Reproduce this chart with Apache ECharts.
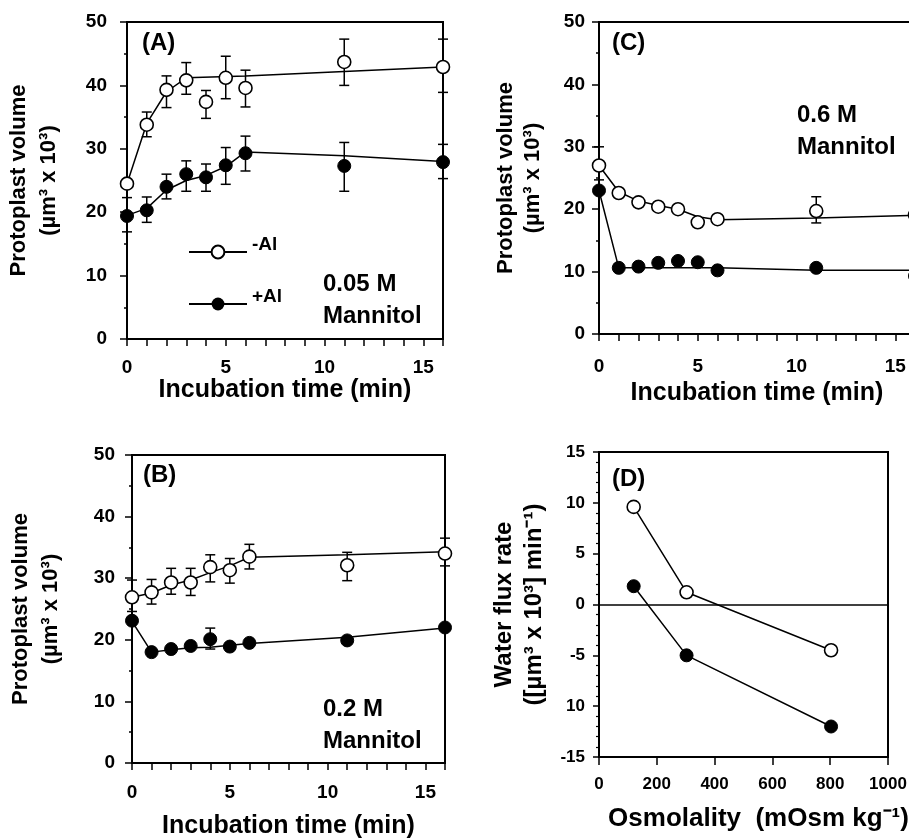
<!DOCTYPE html>
<html>
<head>
<meta charset="utf-8">
<script src="https://cdn.jsdelivr.net/npm/echarts@6/dist/echarts.min.js"></script>
<style>html,body{margin:0;padding:0;background:#fff}#c{width:909px;height:838px}</style>
</head>
<body>
<div id="c"></div>
<script>
// ---------- DATA ----------
// Panel A (0.05 M mannitol)
const timeA = [0, 1, 2, 3, 4, 5, 6, 11, 16];
const aMinusAl = [24.5, 33.8, 39.3, 40.8, 37.4, 41.2, 39.6, 43.7, 42.9];
const aPlusAl  = [19.4, 20.3, 24.0, 26.0, 25.5, 27.4, 29.3, 27.3, 27.9];
const aMinusErr = [[1,31.9,35.8],[2,36.5,41.5],[3,38.6,43.6],[4,34.8,39.2],[5,37.9,44.6],[6,36.6,42.4],[11,40.0,47.3],[16,38.9,47.3]];
const aPlusErr  = [[0,16.9,22.3],[1,18.4,22.4],[2,22.1,26.0],[3,23.3,28.1],[4,23.3,27.6],[5,24.4,30.2],[6,26.5,32.0],[11,23.3,31.0],[16,25.3,30.7]];
const aMinusFitX = [0, 1, 2, 3, 6, 11, 16];
const aMinusFitY = [24.5, 34.0, 39.0, 41.2, 41.5, 42.2, 42.9];
const aPlusFitX = [0, 1, 2, 3, 4, 5, 6, 11, 16];
const aPlusFitY = [19.5, 20.6, 23.5, 25.0, 25.8, 27.2, 29.5, 28.9, 28.0];

// Panel B (0.2 M mannitol)
const timeB = [0, 1, 2, 3, 4, 5, 6, 11, 16];
const bMinusAl = [26.9, 27.7, 29.3, 29.3, 31.8, 31.3, 33.5, 32.1, 34.0];
const bPlusAl  = [23.1, 18.0, 18.5, 19.0, 20.1, 18.9, 19.5, 19.9, 22.0];
const bMinusErr = [[0,24.6,29.7],[1,25.8,29.8],[2,27.4,31.6],[3,27.2,31.6],[4,29.4,33.8],[5,29.2,33.2],[6,31.5,35.5],[11,29.6,34.2],[16,32.0,36.5]];
const bPlusErr  = [[4,18.5,21.9]];
const bMinusFitX = [0, 1, 2, 3, 4, 5, 6, 11, 16];
const bMinusFitY = [26.9, 27.6, 28.9, 29.7, 30.9, 32.0, 33.4, 33.8, 34.3];
const bPlusFitX = [0, 1, 2, 3, 4, 5, 6, 11, 16];
const bPlusFitY = [23.0, 18.0, 18.4, 18.7, 18.8, 19.1, 19.4, 20.4, 21.9];

// Panel C (0.6 M mannitol)
const timeC = [0, 1, 2, 3, 4, 5, 6, 11, 16];
const cMinusAl = [27.0, 22.6, 21.1, 20.4, 20.0, 17.9, 18.4, 19.7, 19.1];
const cPlusAl  = [23.0, 10.6, 10.8, 11.4, 11.7, 11.5, 10.2, 10.6, 9.3];
const cMinusErr = [[0,24.7,30.0],[11,17.8,22.0]];
const cMinusFitX = [0, 1, 2, 3, 4, 5, 6, 11, 16];
const cMinusFitY = [27.0, 22.8, 21.3, 20.6, 20.0, 18.8, 18.3, 18.6, 19.0];
const cPlusFitX = [0, 1, 6, 11, 16];
const cPlusFitY = [23.0, 10.6, 10.6, 10.2, 10.2];

// Panel D (water flux rate vs osmolality)
const osmD = [120, 303, 803];
const dMinusAl = [9.6, 1.2, -4.5];
const dPlusAl  = [1.8, -5.0, -12.0];

// Tick labels
const timeTicks = [0, 5, 10, 15];
const volTicks = [0, 10, 20, 30, 40, 50];
const fluxTicks = [-15, -10, -5, 0, 5, 10, 15];
const fluxTickText = ['-15', '10', '-5', '0', '5', '10', '15'];
const osmTicks = [0, 200, 400, 600, 800, 1000];

// ---------- HELPERS ----------
const FONT = '"Liberation Sans", Arial, Helvetica, sans-serif';
const zip = (xs, ys) => xs.map((x, i) => [x, ys[i]]);

function errRender(params, api) {
  const x = api.value(0), lo = api.value(1), hi = api.value(2);
  const pLo = api.coord([x, lo]), pHi = api.coord([x, hi]);
  const hw = 5;
  const style = { stroke: '#000', lineWidth: 1.5, fill: null };
  return {
    type: 'group',
    children: [
      { type: 'line', shape: { x1: pLo[0], y1: pLo[1], x2: pHi[0], y2: pHi[1] }, style },
      { type: 'line', shape: { x1: pLo[0] - hw, y1: pLo[1], x2: pLo[0] + hw, y2: pLo[1] }, style },
      { type: 'line', shape: { x1: pHi[0] - hw, y1: pHi[1], x2: pHi[0] + hw, y2: pHi[1] }, style }
    ]
  };
}

function timeAxis(gi, margin, nameGap) {
  return {
    gridIndex: gi, type: 'value', min: 0, max: 16, interval: 1,
    axisLine: { show: true, onZero: false, lineStyle: { color: '#000', width: 2 } },
    axisTick: { show: true, length: 7, lineStyle: { color: '#000', width: 1.5 } },
    axisLabel: { margin: margin, color: '#000', fontSize: 19, fontWeight: 'bold', fontFamily: FONT,
      formatter: v => timeTicks.indexOf(v) >= 0 ? String(v) : '' },
    splitLine: { show: false },
    name: 'Incubation time (min)', nameLocation: 'middle', nameGap: nameGap,
    nameTextStyle: { color: '#000', fontSize: 25, fontWeight: 'bold', fontFamily: FONT }
  };
}

function volAxis(gi, margin, nameGap, lh) {
  return {
    gridIndex: gi, type: 'value', min: 0, max: 50, interval: 10,
    axisLine: { show: true, onZero: false, lineStyle: { color: '#000', width: 2 } },
    axisTick: { show: true, length: 7, lineStyle: { color: '#000', width: 1.5 } },
    minorTick: { show: true, splitNumber: 2, length: 3, lineStyle: { color: '#000', width: 1.5 } },
    axisLabel: { margin: margin, color: '#000', fontSize: 19, fontWeight: 'bold', fontFamily: FONT,
      formatter: v => volTicks.indexOf(v) >= 0 ? String(v) : '' },
    splitLine: { show: false },
    name: 'Protoplast volume\n(µm³ x 10³)', nameLocation: 'middle', nameGap: nameGap,
    nameTextStyle: { color: '#000', fontSize: 22, fontWeight: 'bold', fontFamily: FONT, lineHeight: lh, align: 'center' }
  };
}

function openScatter(name, xi, yi, data) {
  return { name, type: 'scatter', xAxisIndex: xi, yAxisIndex: yi, data, symbol: 'circle', symbolSize: 13,
    itemStyle: { color: '#fff', borderColor: '#000', borderWidth: 1.6, opacity: 1 }, z: 4, clip: false };
}
function filledScatter(name, xi, yi, data) {
  return { name, type: 'scatter', xAxisIndex: xi, yAxisIndex: yi, data, symbol: 'circle', symbolSize: 13,
    itemStyle: { color: '#000', borderColor: '#000', borderWidth: 1, opacity: 1 }, z: 4, clip: false };
}
function fitLine(name, xi, yi, data, open) {
  return { name, type: 'line', xAxisIndex: xi, yAxisIndex: yi, data, showSymbol: false, symbol: 'circle',
    symbolSize: 13, lineStyle: { color: '#000', width: 1.5 },
    itemStyle: open ? { color: '#fff', borderColor: '#000', borderWidth: 1.6 } : { color: '#000', borderColor: '#000' },
    z: 3, silent: true, animation: false };
}
function errBars(name, xi, yi, data) {
  return { name, type: 'custom', xAxisIndex: xi, yAxisIndex: yi, data, renderItem: errRender, z: 2, clip: false, animation: false };
}

const gridStyle = { show: true, borderColor: '#000', borderWidth: 2, backgroundColor: 'transparent', containLabel: false, outerBoundsMode: 'none' };

const option = {
  animation: false,
  backgroundColor: '#fff',
  textStyle: { fontFamily: FONT },
  grid: [
    Object.assign({ left: 127, top: 22, width: 316, height: 317 }, gridStyle),   // A
    Object.assign({ left: 132, top: 455, width: 313, height: 308 }, gridStyle),  // B
    Object.assign({ left: 599, top: 22, width: 316, height: 312 }, gridStyle),   // C
    Object.assign({ left: 599, top: 452, width: 289, height: 305 }, gridStyle)   // D
  ],
  xAxis: [
    timeAxis(0, 19, 37),
    timeAxis(1, 20, 51),
    timeAxis(2, 23, 47),
    {
      gridIndex: 3, type: 'value', min: 0, max: 1000, interval: 200,
      axisLine: { show: true, onZero: false, lineStyle: { color: '#000', width: 2 } },
      axisTick: { show: true, length: 8, lineStyle: { color: '#000', width: 1.5 } },
      axisLabel: { margin: 19, color: '#000', fontSize: 17, fontWeight: 'bold', fontFamily: FONT,
        formatter: v => osmTicks.indexOf(v) >= 0 ? String(v) : '' },
      splitLine: { show: false },
      name: 'Osmolality  (mOsm kg⁻¹)', nameLocation: 'middle', nameGap: 49,
      nameTextStyle: { color: '#000', fontSize: 26, fontWeight: 'bold', fontFamily: FONT, padding: [0, 0, 0, 30] }
    }
  ],
  yAxis: [
    volAxis(0, 20, 63, 30),
    volAxis(1, 17, 66, 30),
    volAxis(2, 14, 53, 27),
    {
      gridIndex: 3, type: 'value', min: -15, max: 15, interval: 5,
      axisLine: { show: true, onZero: false, lineStyle: { color: '#000', width: 2 } },
      axisTick: { show: true, length: 6, lineStyle: { color: '#000', width: 1.5 } },
      minorTick: { show: true, splitNumber: 5, length: 3, lineStyle: { color: '#000', width: 1.2 } },
      axisLabel: { margin: 14, color: '#000', fontSize: 17, fontWeight: 'bold', fontFamily: FONT,
        formatter: v => { const i = fluxTicks.indexOf(v); return i >= 0 ? fluxTickText[i] : ''; } },
      splitLine: { show: false },
      name: 'Water flux rate\n([µm³ x 10³] min⁻¹)', nameLocation: 'middle', nameGap: 50,
      nameTextStyle: { color: '#000', fontSize: 24, fontWeight: 'bold', fontFamily: FONT, lineHeight: 30, align: 'center' }
    }
  ],
  legend: {
    data: ['-Al', '+Al'], orient: 'vertical', left: 183, top: 230,
    itemWidth: 58, itemHeight: 16, itemGap: 18, selectedMode: false,
    formatter: name => name + '\n ',
    textStyle: { color: '#000', fontSize: 19, fontWeight: 'bold', fontFamily: FONT, lineHeight: 15 }
  },
  graphic: [
    { type: 'text', left: 142, top: 31, style: { text: '(A)', font: 'bold 24px ' + FONT, fill: '#000' } },
    { type: 'text', left: 143, top: 463, style: { text: '(B)', font: 'bold 24px ' + FONT, fill: '#000' } },
    { type: 'text', left: 612, top: 31, style: { text: '(C)', font: 'bold 24px ' + FONT, fill: '#000' } },
    { type: 'text', left: 612, top: 467, style: { text: '(D)', font: 'bold 24px ' + FONT, fill: '#000' } },
    { type: 'text', left: 323, top: 268, style: { text: '0.05 M\nMannitol', font: 'bold 24px ' + FONT, lineHeight: 32, fill: '#000' } },
    { type: 'text', left: 797, top: 99, style: { text: '0.6 M\nMannitol', font: 'bold 24px ' + FONT, lineHeight: 32, fill: '#000' } },
    { type: 'text', left: 323, top: 693, style: { text: '0.2 M\nMannitol', font: 'bold 24px ' + FONT, lineHeight: 32, fill: '#000' } }
  ],
  series: [
    // Panel A
    fitLine('-Al', 0, 0, zip(aMinusFitX, aMinusFitY), true),
    fitLine('+Al', 0, 0, zip(aPlusFitX, aPlusFitY), false),
    errBars('A err -', 0, 0, aMinusErr),
    errBars('A err +', 0, 0, aPlusErr),
    openScatter('A -Al pts', 0, 0, zip(timeA, aMinusAl)),
    filledScatter('A +Al pts', 0, 0, zip(timeA, aPlusAl)),
    // Panel B
    fitLine('B -Al fit', 1, 1, zip(bMinusFitX, bMinusFitY), true),
    fitLine('B +Al fit', 1, 1, zip(bPlusFitX, bPlusFitY), false),
    errBars('B err -', 1, 1, bMinusErr),
    errBars('B err +', 1, 1, bPlusErr),
    openScatter('B -Al pts', 1, 1, zip(timeB, bMinusAl)),
    filledScatter('B +Al pts', 1, 1, zip(timeB, bPlusAl)),
    // Panel C
    fitLine('C -Al fit', 2, 2, zip(cMinusFitX, cMinusFitY), true),
    fitLine('C +Al fit', 2, 2, zip(cPlusFitX, cPlusFitY), false),
    errBars('C err -', 2, 2, cMinusErr),
    openScatter('C -Al pts', 2, 2, zip(timeC, cMinusAl)),
    filledScatter('C +Al pts', 2, 2, zip(timeC, cPlusAl)),
    // Panel D
    {
      name: 'D -Al', type: 'line', xAxisIndex: 3, yAxisIndex: 3, data: zip(osmD, dMinusAl),
      symbol: 'circle', symbolSize: 13, lineStyle: { color: '#000', width: 1.5 },
      itemStyle: { color: '#fff', borderColor: '#000', borderWidth: 1.6 }, z: 4,
      markLine: { silent: true, symbol: 'none', label: { show: false },
        lineStyle: { color: '#000', width: 1.5, type: 'solid' }, data: [{ yAxis: 0 }] }
    },
    {
      name: 'D +Al', type: 'line', xAxisIndex: 3, yAxisIndex: 3, data: zip(osmD, dPlusAl),
      symbol: 'circle', symbolSize: 13, lineStyle: { color: '#000', width: 1.5 },
      itemStyle: { color: '#000', borderColor: '#000', borderWidth: 1 }, z: 4
    }
  ]
};

const chart = echarts.init(document.getElementById('c'), null, { renderer: 'canvas' });
chart.setOption(option);
</script>
</body>
</html>
